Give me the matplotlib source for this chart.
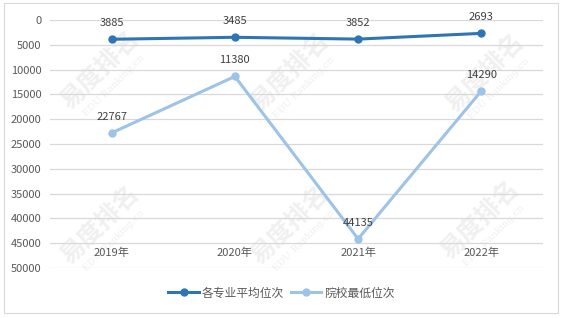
import matplotlib
matplotlib.use('Agg')
import matplotlib.pyplot as plt
from matplotlib.patches import Rectangle

plt.rcParams['font.family'] = ['Noto Sans CJK SC', 'DejaVu Sans']

years = ['2019年', '2020年', '2021年', '2022年']
avg_rank = [3885, 3485, 3852, 2693]
min_rank = [22767, 11380, 44135, 14290]
avg_name = '各专业平均位次'
min_name = '院校最低位次'

dark_blue = '#2E75B6'
light_blue = '#9DC3E6'
text_color = '#595959'


def main():
    fig = plt.figure(figsize=(5.63, 3.18), dpi=100)
    ax = fig.add_axes([50 / 563, 1 - 268 / 318, 493 / 563, 248 / 318])
    ax.set_zorder(2)

    # faint watermark behind the plot
    for wx, wy in [(100, 70), (290, 72), (485, 73), (100, 225), (290, 225), (480, 220)]:
        fig.text(wx / 563, 1 - wy / 318, '易度排名', fontsize=18, fontweight='bold',
                 color='#f0f0f0', rotation=45, ha='center', va='center', zorder=0)
        fig.text((wx + 14) / 563, 1 - (wy + 16) / 318, 'EDU Ranking.cn', fontsize=7,
                 family='DejaVu Serif', color='#f0f0f0', rotation=45,
                 ha='center', va='center', zorder=0)

    x = list(range(len(years)))
    ax.plot(x, avg_rank, color=dark_blue, linewidth=2.2, marker='o', markersize=5,
            label=avg_name, zorder=3)
    ax.plot(x, min_rank, color=light_blue, linewidth=2.2, marker='o', markersize=5,
            label=min_name, zorder=3)

    for xi, v in zip(x, avg_rank):
        ax.annotate(str(v), (xi, v), xytext=(0, 8), textcoords='offset points',
                    ha='center', va='bottom', fontsize=8, color='#404040')
    for xi, v in zip(x, min_rank):
        ax.annotate(str(v), (xi, v), xytext=(0, 8), textcoords='offset points',
                    ha='center', va='bottom', fontsize=8, color='#404040')

    ax.set_xlim(-0.5, len(years) - 0.5)
    ax.set_ylim(50000, 0)
    ax.set_yticks(range(0, 50001, 5000))
    ax.tick_params(axis='y', length=0, labelsize=8, labelcolor=text_color, pad=6)
    ax.set_xticks([])
    ax.yaxis.grid(True, color='#d9d9d9', linewidth=0.9)
    ax.set_axisbelow(True)
    for s in ax.spines.values():
        s.set_visible(False)
    ax.patch.set_alpha(0)

    # category labels sit inside the plot area, as in the source
    for xi, lab in zip(x, years):
        ax.text(xi, 47000, lab, ha='center', va='center', fontsize=8, color=text_color)

    ax.legend(loc='center', bbox_to_anchor=(0.469, -0.101),
              bbox_transform=ax.transAxes, ncol=2, frameon=False, fontsize=8.5,
              handlelength=2.6, columnspacing=0.6, handletextpad=0.2,
              labelcolor=text_color)

    fig.patches.append(Rectangle((4 / 563, 5 / 318), 554 / 563, 310 / 318,
                                 transform=fig.transFigure, fill=False,
                                 edgecolor='#d9d9d9', linewidth=0.8))

    fig.savefig('out.png', dpi=100)


if __name__ == '__main__':
    main()
